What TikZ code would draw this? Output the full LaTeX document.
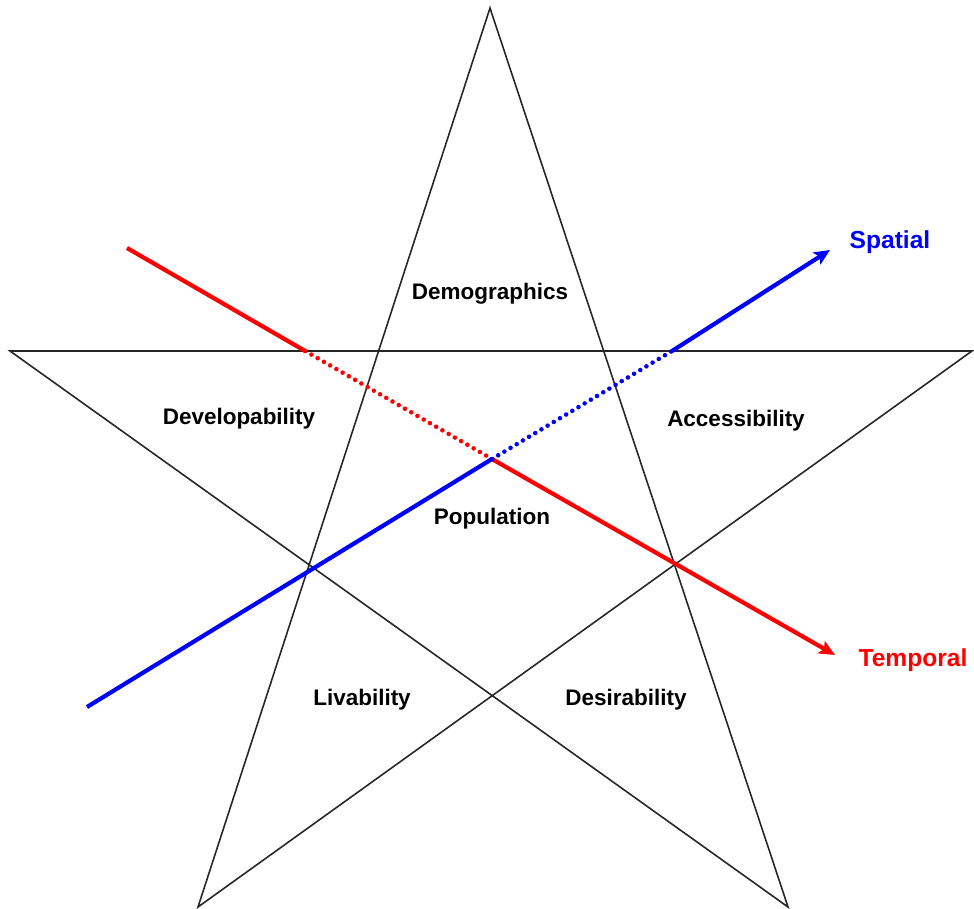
\documentclass[tikz,border=0pt]{standalone}
\usepackage{fontspec}
\setmainfont{Liberation Sans}
\usetikzlibrary{arrows.meta}
\definecolor{SpatialBlue}{RGB}{0,0,255}
\definecolor{TemporalRed}{RGB}{255,0,0}

\begin{document}
\begin{tikzpicture}[
    x=0.02cm, y=-0.02cm,
    edge/.style={draw=black!85, line width=0.9pt, line join=miter},
    axis/.style={line width=2.4pt},
    hidden/.style={line width=2.6pt, line cap=round, dash pattern=on 0pt off 4.1pt},
    tip/.style={-{Stealth[length=9pt, width=8pt, inset=2pt]}},
    region/.style={font=\fontsize{12.8}{15}\selectfont\bfseries, text=black},
    axislabel/.style={font=\fontsize{14}{16}\selectfont\bfseries},
]
\useasboundingbox (0,0) rectangle (974,909);

% star vertices
\coordinate (top) at (490,8);
\coordinate (left) at (10,351);
\coordinate (right) at (972,351);
\coordinate (botl) at (198,907);
\coordinate (botr) at (788,907);

\draw[edge] (top) -- (botl) -- (right) -- (left) -- (botr) -- cycle;

% the two axes
\coordinate (centre) at (492,459);
\coordinate (tstart) at (127,248);
\coordinate (tend) at (835,655);
\coordinate (sstart) at (87,707);
\coordinate (send) at (830,250);
\coordinate (tin) at (intersection of tstart--centre and left--right);
\coordinate (sout) at (672,351);

\draw[axis, TemporalRed] (tstart) -- (tin);
\draw[hidden, TemporalRed] (tin) -- (centre);
\draw[axis, tip, TemporalRed] (centre) -- (tend);

\draw[axis, SpatialBlue] (sstart) -- (centre);
\draw[hidden, SpatialBlue] (centre) -- (sout);
\draw[axis, tip, SpatialBlue] (sout) -- (send);

\node[axislabel, text=SpatialBlue] (spatial) at (890,242) {Spatial};
\node[axislabel, text=TemporalRed] (temporal) at (913,660) {Temporal};

% regions of the star
\node[region] (demo) at (490,294) {Demographics};
\node[region] (devel) at (239,419) {Developability};
\node[region] (access) at (736,421) {Accessibility};
\node[region] (popu) at (492,519) {Population};
\node[region] (liva) at (362,700) {Livability};
\node[region] (desi) at (626,700) {Desirability};
\end{tikzpicture}
\end{document}
